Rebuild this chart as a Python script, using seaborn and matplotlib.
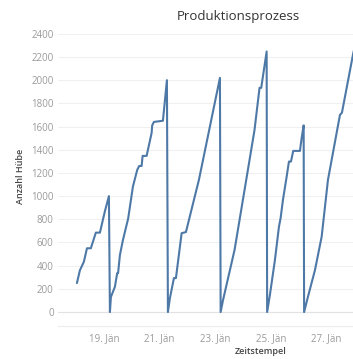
import pandas as pd
import matplotlib
matplotlib.use("Agg")
import matplotlib.pyplot as plt
import seaborn as sns

# Zeitstempel / Anzahl Hübe
zeitstempel = [
    "2021-01-18 00:42", "2021-01-18 03:17", "2021-01-18 06:43", "2021-01-18 09:22",
    "2021-01-18 12:43", "2021-01-18 17:02", "2021-01-18 20:33", "2021-01-19 00:52",
    "2021-01-19 04:19", "2021-01-19 05:11",
    "2021-01-19 06:03", "2021-01-19 09:30", "2021-01-19 11:28", "2021-01-19 12:14",
    "2021-01-19 13:49", "2021-01-19 16:24", "2021-01-19 20:59", "2021-01-20 01:02",
    "2021-01-20 04:45", "2021-01-20 06:29", "2021-01-20 08:33", "2021-01-20 09:24",
    "2021-01-20 12:52", "2021-01-20 17:11", "2021-01-20 17:41", "2021-01-20 19:11",
    "2021-01-21 02:56", "2021-01-21 06:23", "2021-01-21 07:15",
    "2021-01-21 08:58", "2021-01-21 12:26", "2021-01-21 14:10", "2021-01-21 19:05",
    "2021-01-21 22:48", "2021-01-22 10:00", "2021-01-23 04:09", "2021-01-23 04:45",
    "2021-01-23 06:45", "2021-01-23 16:45", "2021-01-24 02:51", "2021-01-24 10:00",
    "2021-01-24 14:20", "2021-01-24 15:47", "2021-01-24 20:28", "2021-01-24 20:53",
    "2021-01-24 23:18", "2021-01-25 03:37", "2021-01-25 07:05", "2021-01-25 08:32",
    "2021-01-25 10:32", "2021-01-25 13:44", "2021-01-25 15:43", "2021-01-25 17:27",
    "2021-01-25 19:25", "2021-01-26 01:12", "2021-01-26 02:41", "2021-01-26 04:24",
    "2021-01-26 04:48",
    "2021-01-26 08:07", "2021-01-26 14:10", "2021-01-26 19:57", "2021-01-27 01:23",
    "2021-01-27 11:44", "2021-01-27 13:28", "2021-01-27 23:14", "2021-01-28 01:34",
]
anzahl_huebe = [
    250, 360, 434, 550,
    550, 685, 685, 870,
    1000, 0,
    130, 218, 336, 336,
    492, 620, 809, 1082,
    1226, 1260, 1260, 1347,
    1347, 1545, 1610, 1640,
    1650, 2000, 0,
    120, 293, 293, 680,
    690, 1140, 2020, 0,
    100, 535, 1140, 1571,
    1934, 1934, 2247, 0,
    150, 449, 736, 811,
    967, 1168, 1298, 1298,
    1390, 1390, 1502, 1610,
    0,
    132, 362, 650, 1140,
    1700, 1720, 2233, 2330,
]
tick_dates = ["2021-01-19", "2021-01-21", "2021-01-23", "2021-01-25", "2021-01-27"]
tick_labels = ["19. Jän", "21. Jän", "23. Jän", "25. Jän", "27. Jän"]
y_ticks = [0, 200, 400, 600, 800, 1000, 1200, 1400, 1600, 1800, 2000, 2200, 2400]

df = pd.DataFrame({"Zeitstempel": pd.to_datetime(zeitstempel),
                   "Anzahl Hübe": anzahl_huebe})

sns.set_style("white")
plt.rcParams["font.family"] = ["Open Sans", "DejaVu Sans"]

fig = plt.figure(figsize=(3.53, 3.59), dpi=100)
ax = fig.add_axes([0.164, 0.092, 0.836, 0.830])

sns.lineplot(data=df, x="Zeitstempel", y="Anzahl Hübe", estimator=None,
             color="#4e79a7", linewidth=1.5, ax=ax)

ax.set_xlim(pd.Timestamp("2021-01-17 08:17"), pd.Timestamp("2021-01-27 23:00"))
ax.set_ylim(-120, 2450)
ax.set_yticks(y_ticks)
ax.set_xticks(pd.to_datetime(tick_dates))
ax.set_xticklabels(tick_labels)

ax.grid(axis="y", color="#f0f0f0", linewidth=0.8)
ax.grid(axis="x", visible=False)
ax.axhline(0, color="#e2e2e2", linewidth=0.8, zorder=1)
for s in ["top", "right", "left"]:
    ax.spines[s].set_visible(False)
ax.spines["bottom"].set_color("#ececec")
ax.spines["bottom"].set_linewidth(0.8)

ax.tick_params(axis="both", length=0, labelsize=7, colors="#9a9a9a")
ax.tick_params(axis="y", pad=3)
ax.tick_params(axis="x", pad=5)
ax.set_xlabel("")
ax.set_ylabel("")

fig.text(0.674, 0.953, "Produktionsprozess", ha="center", va="center",
         fontsize=9.5, color="#333333")
fig.text(0.059, 0.51, "Anzahl Hübe", rotation=90, ha="center", va="center",
         fontsize=6.5, color="#444444", fontweight="semibold")
fig.text(0.739, 0.0195, "Zeitstempel", ha="center", va="center",
         fontsize=6.5, color="#444444", fontweight="semibold")

fig.savefig("out.png", dpi=100)
